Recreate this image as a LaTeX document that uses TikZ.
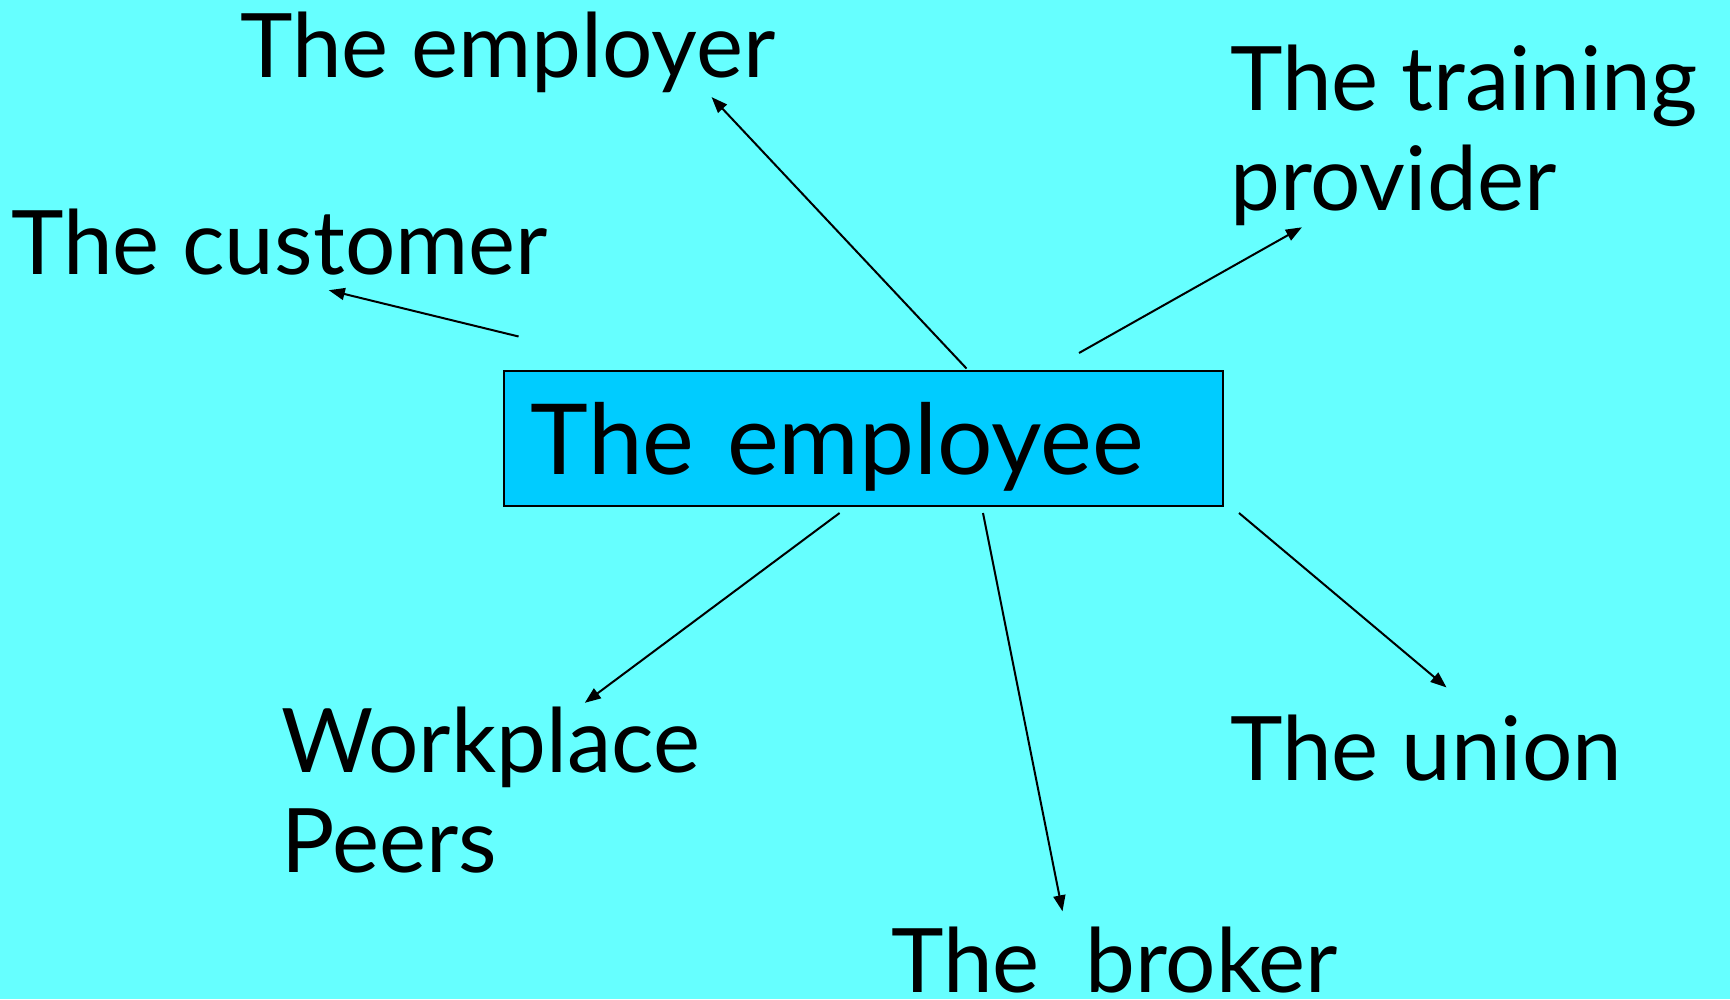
\documentclass[tikz,border=0pt]{standalone}
\usepackage{fontspec}
\setmainfont{Lato}
\usetikzlibrary{arrows.meta}
\definecolor{bgcyan}{HTML}{66FFFF}
\definecolor{boxblue}{HTML}{00CCFF}
\begin{document}
\begin{tikzpicture}[x=1pt,y=-1pt,
  party/.style={anchor=base west, inner sep=0pt, align=left,
    font=\fontsize{89}{100}\selectfont},
  hub/.style={draw=black, line width=1.8pt, fill=boxblue, anchor=north west,
    minimum width=719pt, minimum height=135pt, inner xsep=27pt, inner ysep=0pt,
    text width=665pt, align=left, text height=93pt, text depth=20pt,
    font=\fontsize{98}{110}\selectfont},
  link/.style={draw=black, line width=2pt,
    -{Triangle[length=16pt,width=12pt]}}]
\fill[bgcyan] (0,0) rectangle (1730,999);
\useasboundingbox (0,0) rectangle (1730,999);

% central box
\node[hub] (employee) at (503,370) {The employee};

% surrounding parties (multi-line labels are anchored on their last line)
\node[party] (employer) at (240,77) {The employer};
\node[party] (training) at (1230,210) {The training\\provider};
\node[party] (customer) at (11,274) {The customer};
\node[party] (peers) at (281,872) {Workplace\\Peers};
\node[party] (union) at (1230,780) {The union};
\node[party] (broker) at (891,992) {The~~broker};

% connector end points
\coordinate (cusA) at (518.6,336.5);
\coordinate (cusB) at (328.8,290.2);
\coordinate (empA) at (966.5,368.5);
\coordinate (empB) at (711.6,97.1);
\coordinate (traA) at (1079,353);
\coordinate (traB) at (1301.9,227.3);
\coordinate (peeA) at (839.6,513);
\coordinate (peeB) at (584.8,702.8);
\coordinate (broA) at (983,513);
\coordinate (broB) at (1062.5,911.3);
\coordinate (uniA) at (1239,513);
\coordinate (uniB) at (1446.5,687.4);

\draw[link] (cusA) -- (cusB);
\draw[link] (empA) -- (empB);
\draw[link] (traA) -- (traB);
\draw[link] (peeA) -- (peeB);
\draw[link] (broA) -- (broB);
\draw[link] (uniA) -- (uniB);
\end{tikzpicture}
\end{document}
